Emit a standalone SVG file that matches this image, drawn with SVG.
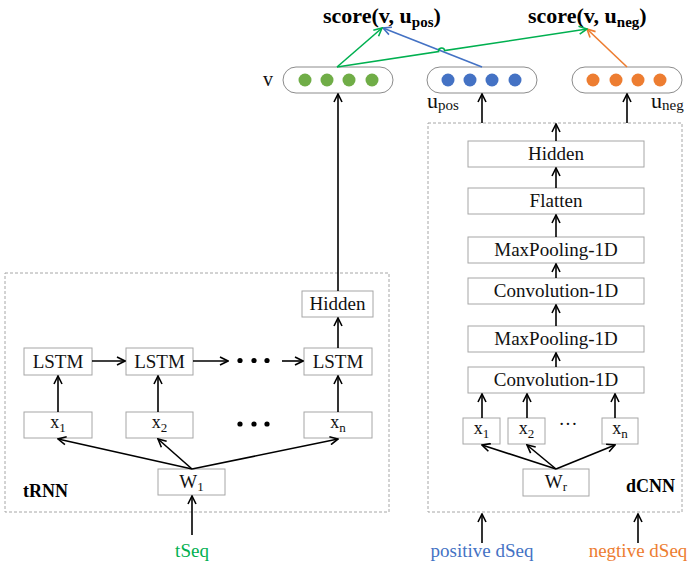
<svg xmlns="http://www.w3.org/2000/svg" width="688" height="566" viewBox="0 0 688 566">
<style>
.box{fill:#fff;stroke:#a6a6a6;stroke-width:1}
.dash{fill:none;stroke:#a6a6a6;stroke-width:1;stroke-dasharray:3 2}
.pill{fill:#fff;stroke:#8c8c8c;stroke-width:1}
.t{font-family:"Liberation Serif","Times New Roman",serif;fill:#111}
.b{font-family:"Liberation Serif","Times New Roman",serif;font-weight:bold;fill:#000}
.ln{fill:none;stroke:#000;stroke-width:1.6}
</style>
<defs>
<marker id="ah" viewBox="0 0 10 10" refX="9" refY="5" markerWidth="10" markerHeight="10" markerUnits="userSpaceOnUse" orient="auto">
<path d="M1,1 L9,5 L1,9" fill="none" stroke="#000" stroke-width="1.6"/>
</marker>
<marker id="ahg" viewBox="0 0 10 10" refX="9" refY="5" markerWidth="10" markerHeight="10" markerUnits="userSpaceOnUse" orient="auto">
<path d="M1,1 L9,5 L1,9" fill="none" stroke="#00b050" stroke-width="1.6"/>
</marker>
<marker id="ahb" viewBox="0 0 10 10" refX="9" refY="5" markerWidth="10" markerHeight="10" markerUnits="userSpaceOnUse" orient="auto">
<path d="M1,1 L9,5 L1,9" fill="none" stroke="#4472c4" stroke-width="1.6"/>
</marker>
<marker id="aho" viewBox="0 0 10 10" refX="9" refY="5" markerWidth="10" markerHeight="10" markerUnits="userSpaceOnUse" orient="auto">
<path d="M1,1 L9,5 L1,9" fill="none" stroke="#ed7d31" stroke-width="1.6"/>
</marker>
</defs>
<rect width="688" height="566" fill="#fff"/>

<!-- containers -->
<g id="tRNN-box">
<rect class="dash" x="5" y="273" width="384" height="239"/>
<text class="b" x="23" y="497" font-size="18">tRNN</text>
</g>
<g id="dCNN-box">
<rect class="dash" x="428" y="123" width="254" height="389"/>
<text class="b" x="675" y="492" font-size="18" text-anchor="end">dCNN</text>
</g>

<!-- score labels -->
<g id="score-pos">
<text class="b" x="323" y="23" font-size="22">score(v, u<tspan font-size="15" dy="4">pos</tspan><tspan dy="-4">)</tspan></text>
</g>
<g id="score-neg">
<text class="b" x="528" y="23" font-size="22">score(v, u<tspan font-size="15" dy="4">neg</tspan><tspan dy="-4">)</tspan></text>
</g>

<!-- vectors -->
<g id="v">
<rect class="pill" x="283" y="67" width="110" height="26" rx="13"/>
<circle cx="305" cy="80" r="6.5" fill="#70ad47"/>
<circle cx="327" cy="80" r="6.5" fill="#70ad47"/>
<circle cx="349" cy="80" r="6.5" fill="#70ad47"/>
<circle cx="372" cy="80" r="6.5" fill="#70ad47"/>
<text class="t" x="268" y="86" font-size="20" text-anchor="middle">v</text>
</g>
<g id="upos">
<rect class="pill" x="427" y="67" width="110" height="26" rx="13"/>
<circle cx="448" cy="80" r="6.5" fill="#4472c4"/>
<circle cx="470" cy="80" r="6.5" fill="#4472c4"/>
<circle cx="492" cy="80" r="6.5" fill="#4472c4"/>
<circle cx="515" cy="80" r="6.5" fill="#4472c4"/>
<text class="t" x="427" y="108" font-size="22">u<tspan font-size="15" dy="2">pos</tspan></text>
</g>
<g id="uneg">
<rect class="pill" x="572" y="67" width="110" height="26" rx="13"/>
<circle cx="593" cy="80" r="6.5" fill="#ed7d31"/>
<circle cx="616" cy="80" r="6.5" fill="#ed7d31"/>
<circle cx="638" cy="80" r="6.5" fill="#ed7d31"/>
<circle cx="660" cy="80" r="6.5" fill="#ed7d31"/>
<text class="t" x="651" y="108" font-size="22">u<tspan font-size="15" dy="2">neg</tspan></text>
</g>

<!-- tRNN nodes -->
<g id="t-hidden" text-anchor="middle"><rect class="box" x="302" y="291" width="71" height="26"/><text class="t" x="337.5" y="310" font-size="19">Hidden</text></g>
<g id="lstm1" text-anchor="middle"><rect class="box" x="24" y="348" width="68" height="27"/><text class="t" x="58" y="368" font-size="19">LSTM</text></g>
<g id="lstm2" text-anchor="middle"><rect class="box" x="126" y="348" width="67" height="27"/><text class="t" x="159.5" y="368" font-size="19">LSTM</text></g>
<g id="lstmn" text-anchor="middle"><rect class="box" x="304" y="348" width="68" height="27"/><text class="t" x="338" y="368" font-size="19">LSTM</text></g>
<g id="tx1" text-anchor="middle"><rect class="box" x="24" y="412" width="68" height="26"/><text class="t" x="58" y="428" font-size="18">x<tspan font-size="13" dy="4">1</tspan></text></g>
<g id="tx2" text-anchor="middle"><rect class="box" x="126" y="412" width="67" height="26"/><text class="t" x="159.5" y="428" font-size="18">x<tspan font-size="13" dy="4">2</tspan></text></g>
<g id="txn" text-anchor="middle"><rect class="box" x="304" y="412" width="68" height="26"/><text class="t" x="338" y="428" font-size="18">x<tspan font-size="13" dy="4">n</tspan></text></g>
<g id="W1" text-anchor="middle"><rect class="box" x="158" y="469" width="67" height="26"/><text class="t" x="191.5" y="488" font-size="19">W<tspan font-size="13" dy="3">1</tspan></text></g>
<g id="tdots">
<circle cx="240" cy="360.5" r="2.6" fill="#000"/><circle cx="254" cy="360.5" r="2.6" fill="#000"/><circle cx="267" cy="360.5" r="2.6" fill="#000"/>
<circle cx="240" cy="424" r="2.6" fill="#000"/><circle cx="254" cy="424" r="2.6" fill="#000"/><circle cx="267" cy="424" r="2.6" fill="#000"/>
</g>
<g id="tSeq" text-anchor="middle"><text class="t" x="192" y="557" font-size="19" style="fill:#00b050">tSeq</text></g>

<!-- dCNN nodes -->
<g id="d-hidden" text-anchor="middle"><rect class="box" x="468" y="141" width="176" height="26"/><text class="t" x="556" y="160" font-size="19">Hidden</text></g>
<g id="flatten" text-anchor="middle"><rect class="box" x="468" y="188" width="176" height="26"/><text class="t" x="556" y="207" font-size="19">Flatten</text></g>
<g id="maxpool2" text-anchor="middle"><rect class="box" x="468" y="237" width="176" height="26"/><text class="t" x="556" y="256" font-size="19">MaxPooling-1D</text></g>
<g id="conv2" text-anchor="middle"><rect class="box" x="468" y="278" width="176" height="26"/><text class="t" x="556" y="297" font-size="19">Convolution-1D</text></g>
<g id="maxpool1" text-anchor="middle"><rect class="box" x="468" y="326" width="176" height="26"/><text class="t" x="556" y="345" font-size="19">MaxPooling-1D</text></g>
<g id="conv1" text-anchor="middle"><rect class="box" x="468" y="367" width="176" height="26"/><text class="t" x="556" y="386" font-size="19">Convolution-1D</text></g>
<g id="dx1" text-anchor="middle"><rect class="box" x="463" y="418" width="37" height="26"/><text class="t" x="481.5" y="434" font-size="18">x<tspan font-size="13" dy="4">1</tspan></text></g>
<g id="dx2" text-anchor="middle"><rect class="box" x="508" y="418" width="37" height="26"/><text class="t" x="526.5" y="434" font-size="18">x<tspan font-size="13" dy="4">2</tspan></text></g>
<g id="dxn" text-anchor="middle"><rect class="box" x="602" y="418" width="36" height="26"/><text class="t" x="620" y="434" font-size="18">x<tspan font-size="13" dy="4">n</tspan></text></g>
<g id="ddots" text-anchor="middle"><text class="t" x="568" y="430" font-size="19">···</text></g>
<g id="Wr" text-anchor="middle"><rect class="box" x="523" y="469" width="66" height="27"/><text class="t" x="556" y="488" font-size="19">W<tspan font-size="13" dy="3">r</tspan></text></g>
<g id="posdseq" text-anchor="middle"><text class="t" x="482" y="557" font-size="19" style="fill:#4472c4">positive dSeq</text></g>
<g id="negdseq" text-anchor="middle"><text class="t" x="638" y="557" font-size="19" style="fill:#ed7d31">negtive dSeq</text></g>

<!-- connectors -->
<g id="connectors">
<line class="ln" x1="192" y1="535" x2="192" y2="496" marker-end="url(#ah)"/>
<line class="ln" x1="192" y1="469" x2="58" y2="439" marker-end="url(#ah)"/>
<line class="ln" x1="192" y1="469" x2="158" y2="439" marker-end="url(#ah)"/>
<line class="ln" x1="192" y1="469" x2="338" y2="439" marker-end="url(#ah)"/>
<line class="ln" x1="58" y1="412" x2="58" y2="376" marker-end="url(#ah)"/>
<line class="ln" x1="158" y1="412" x2="158" y2="376" marker-end="url(#ah)"/>
<line class="ln" x1="338" y1="412" x2="338" y2="376" marker-end="url(#ah)"/>
<line class="ln" x1="92" y1="361" x2="125" y2="361" marker-end="url(#ah)"/>
<line class="ln" x1="193" y1="361" x2="228" y2="361" marker-end="url(#ah)"/>
<line class="ln" x1="282" y1="361" x2="303" y2="361" marker-end="url(#ah)"/>
<line class="ln" x1="338" y1="348" x2="338" y2="318" marker-end="url(#ah)"/>
<line class="ln" x1="338" y1="291" x2="338" y2="94" marker-end="url(#ah)"/>

<line class="ln" x1="482" y1="543" x2="482" y2="514" marker-end="url(#ah)"/>
<line class="ln" x1="638" y1="543" x2="638" y2="514" marker-end="url(#ah)"/>
<line class="ln" x1="556" y1="469" x2="482" y2="445" marker-end="url(#ah)"/>
<line class="ln" x1="556" y1="469" x2="527" y2="445" marker-end="url(#ah)"/>
<line class="ln" x1="556" y1="469" x2="615" y2="445" marker-end="url(#ah)"/>
<line class="ln" x1="482" y1="418" x2="482" y2="394" marker-end="url(#ah)"/>
<line class="ln" x1="527" y1="418" x2="527" y2="394" marker-end="url(#ah)"/>
<line class="ln" x1="615" y1="418" x2="615" y2="394" marker-end="url(#ah)"/>
<line class="ln" x1="556" y1="367" x2="556" y2="353" marker-end="url(#ah)"/>
<line class="ln" x1="556" y1="326" x2="556" y2="305" marker-end="url(#ah)"/>
<line class="ln" x1="556" y1="278" x2="556" y2="264" marker-end="url(#ah)"/>
<line class="ln" x1="556" y1="237" x2="556" y2="215" marker-end="url(#ah)"/>
<line class="ln" x1="556" y1="188" x2="556" y2="168" marker-end="url(#ah)"/>
<line class="ln" x1="556" y1="141" x2="556" y2="124" marker-end="url(#ah)"/>
<line class="ln" x1="482" y1="123" x2="482" y2="94" marker-end="url(#ah)"/>
<line class="ln" x1="627" y1="123" x2="627" y2="94" marker-end="url(#ah)"/>

<line x1="482" y1="67" x2="383" y2="28" stroke="#4472c4" stroke-width="1.6" marker-end="url(#ahb)"/>
<line x1="627" y1="67" x2="587" y2="29" stroke="#ed7d31" stroke-width="1.6" marker-end="url(#aho)"/>
<line x1="337" y1="67" x2="382" y2="28" stroke="#00b050" stroke-width="1.6" marker-end="url(#ahg)"/>
<path d="M337,67 L438.6,51.55 A3,3 0 0 1 444.6,50.65 L587,29" fill="none" stroke="#00b050" stroke-width="1.6" marker-end="url(#ahg)"/>
</g>
</svg>
